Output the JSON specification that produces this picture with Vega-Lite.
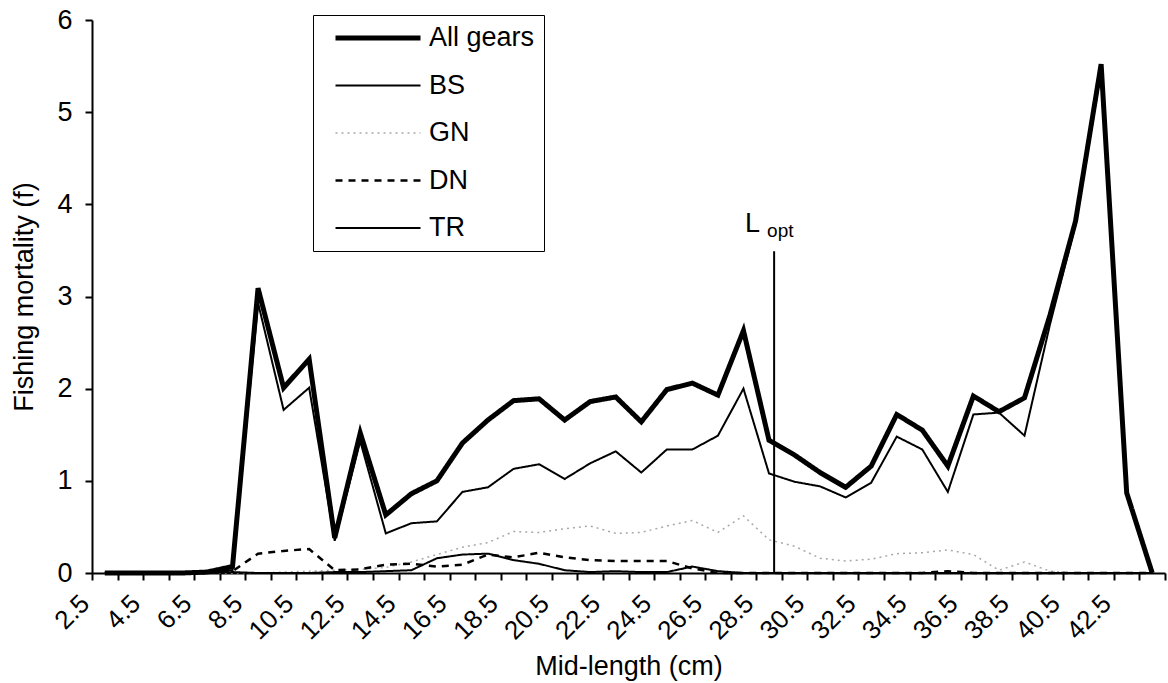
{
  "$schema": "https://vega.github.io/schema/vega-lite/v6.json",
  "autosize": "none",
  "width": 1073,
  "height": 553,
  "padding": {"left": 92, "top": 20, "right": 3, "bottom": 110},
  "background": "white",
  "config": {
    "font": "Liberation Sans",
    "view": {"stroke": null},
    "axis": {
      "grid": false,
      "domainColor": "#000",
      "domainWidth": 2,
      "tickColor": "#000",
      "tickWidth": 2,
      "tickSize": 7,
      "labelColor": "#000",
      "titleColor": "#000",
      "labelFont": "Liberation Sans",
      "titleFont": "Liberation Sans",
      "titleFontWeight": "normal",
      "labelFontSize": 26,
      "titleFontSize": 27
    },
    "legend": {
      "orient": "none",
      "legendX": 221,
      "legendY": -5,
      "labelFont": "Liberation Sans",
      "labelFontSize": 27,
      "labelColor": "#000",
      "symbolType": "stroke",
      "symbolSize": 7225,
      "strokeColor": "#000",
      "fillColor": "#fff",
      "padding": 9,
      "rowPadding": 19.5,
      "clipHeight": 28,
      "symbolOffset": 11,
      "labelOffset": 6
    }
  },
  "layer": [
    {
      "data": {
        "values": [
          {"L": 2.5, "All gears": 0, "BS": 0, "GN": 0, "DN": 0, "TR": 0},
          {"L": 3.5, "All gears": 0, "BS": 0, "GN": 0, "DN": 0, "TR": 0},
          {"L": 4.5, "All gears": 0, "BS": 0, "GN": 0, "DN": 0, "TR": 0},
          {"L": 5.5, "All gears": 0, "BS": 0, "GN": 0, "DN": 0, "TR": 0},
          {"L": 6.5, "All gears": 0.01, "BS": 0.01, "GN": 0, "DN": 0, "TR": 0},
          {"L": 7.5, "All gears": 0.07, "BS": 0.03, "GN": 0, "DN": 0.02, "TR": 0.01},
          {"L": 8.5, "All gears": 3.09, "BS": 2.93, "GN": 0, "DN": 0.21, "TR": 0},
          {"L": 9.5, "All gears": 2.01, "BS": 1.77, "GN": 0.01, "DN": 0.24, "TR": 0},
          {"L": 10.5, "All gears": 2.32, "BS": 2.01, "GN": 0.02, "DN": 0.26, "TR": 0},
          {"L": 11.5, "All gears": 0.38, "BS": 0.35, "GN": 0.03, "DN": 0.03, "TR": 0.01},
          {"L": 12.5, "All gears": 1.52, "BS": 1.43, "GN": 0.04, "DN": 0.04, "TR": 0.01},
          {"L": 13.5, "All gears": 0.63, "BS": 0.43, "GN": 0.06, "DN": 0.09, "TR": 0.02},
          {"L": 14.5, "All gears": 0.86, "BS": 0.54, "GN": 0.12, "DN": 0.1, "TR": 0.03},
          {"L": 15.5, "All gears": 1.0, "BS": 0.56, "GN": 0.2, "DN": 0.07, "TR": 0.16},
          {"L": 16.5, "All gears": 1.41, "BS": 0.88, "GN": 0.28, "DN": 0.09, "TR": 0.2},
          {"L": 17.5, "All gears": 1.66, "BS": 0.93, "GN": 0.33, "DN": 0.2, "TR": 0.21},
          {"L": 18.5, "All gears": 1.87, "BS": 1.13, "GN": 0.45, "DN": 0.17, "TR": 0.14},
          {"L": 19.5, "All gears": 1.89, "BS": 1.18, "GN": 0.44, "DN": 0.22, "TR": 0.1},
          {"L": 20.5, "All gears": 1.66, "BS": 1.02, "GN": 0.48, "DN": 0.17, "TR": 0.03},
          {"L": 21.5, "All gears": 1.86, "BS": 1.19, "GN": 0.51, "DN": 0.14, "TR": 0.01},
          {"L": 22.5, "All gears": 1.91, "BS": 1.32, "GN": 0.43, "DN": 0.13, "TR": 0.02},
          {"L": 23.5, "All gears": 1.64, "BS": 1.09, "GN": 0.44, "DN": 0.13, "TR": 0.01},
          {"L": 24.5, "All gears": 1.99, "BS": 1.34, "GN": 0.51, "DN": 0.13, "TR": 0.01},
          {"L": 25.5, "All gears": 2.06, "BS": 1.34, "GN": 0.57, "DN": 0.05, "TR": 0.07},
          {"L": 26.5, "All gears": 1.93, "BS": 1.49, "GN": 0.44, "DN": 0, "TR": 0.02},
          {"L": 27.5, "All gears": 2.63, "BS": 2.0, "GN": 0.62, "DN": 0, "TR": 0},
          {"L": 28.5, "All gears": 1.44, "BS": 1.08, "GN": 0.36, "DN": 0, "TR": 0},
          {"L": 29.5, "All gears": 1.28, "BS": 0.99, "GN": 0.29, "DN": 0, "TR": 0},
          {"L": 30.5, "All gears": 1.09, "BS": 0.94, "GN": 0.16, "DN": 0, "TR": 0},
          {"L": 31.5, "All gears": 0.93, "BS": 0.82, "GN": 0.13, "DN": 0, "TR": 0},
          {"L": 32.5, "All gears": 1.16, "BS": 0.98, "GN": 0.15, "DN": 0, "TR": 0},
          {"L": 33.5, "All gears": 1.72, "BS": 1.48, "GN": 0.21, "DN": 0, "TR": 0},
          {"L": 34.5, "All gears": 1.55, "BS": 1.34, "GN": 0.22, "DN": 0, "TR": 0},
          {"L": 35.5, "All gears": 1.16, "BS": 0.88, "GN": 0.25, "DN": 0.02, "TR": 0},
          {"L": 36.5, "All gears": 1.92, "BS": 1.72, "GN": 0.2, "DN": 0, "TR": 0},
          {"L": 37.5, "All gears": 1.75, "BS": 1.74, "GN": 0.03, "DN": 0, "TR": 0},
          {"L": 38.5, "All gears": 1.9, "BS": 1.49, "GN": 0.12, "DN": 0, "TR": 0},
          {"L": 39.5, "All gears": 2.8, "BS": 2.7, "GN": 0.02, "DN": 0, "TR": 0},
          {"L": 40.5, "All gears": 3.82, "BS": 3.78, "GN": 0, "DN": 0, "TR": 0},
          {"L": 41.5, "All gears": 5.52, "BS": 5.45, "GN": 0, "DN": 0, "TR": 0},
          {"L": 42.5, "All gears": 0.87, "BS": 0.87, "GN": 0, "DN": 0, "TR": 0},
          {"L": 43.5, "All gears": 0, "BS": 0, "GN": 0, "DN": 0, "TR": 0}
        ]
      },
      "transform": [{"fold": ["All gears", "BS", "GN", "DN", "TR"], "as": ["gear", "f"]}],
      "mark": {"type": "line", "interpolate": "linear"},
      "encoding": {
        "x": {
          "field": "L",
          "type": "quantitative",
          "title": "Mid-length (cm)",
          "scale": {"domain": [2, 44], "nice": false, "zero": false},
          "axis": {
            "values": [2, 2.5, 3, 4, 4.5, 5, 6, 6.5, 7, 8, 8.5, 9, 10, 10.5, 11, 12, 12.5, 13, 14, 14.5, 15, 16, 16.5, 17, 18, 18.5, 19, 20, 20.5, 21, 22, 22.5, 23, 24, 24.5, 25, 26, 26.5, 27, 28, 28.5, 29, 30, 30.5, 31, 32, 32.5, 33, 34, 34.5, 35, 36, 36.5, 37, 38, 38.5, 39, 40, 40.5, 41, 42, 42.5, 43, 44],
            "tickCount": 200,
            "labelExpr": "datum.value % 2 == 0.5 ? format(datum.value, '.1f') : ''",
            "tickOpacity": {"condition": {"test": "datum.value % 1 != 0", "value": 0}, "value": 1},
            "labelAngle": -45,
            "labelAlign": "right",
            "labelBaseline": "middle",
            "labelOffset": -20,
            "labelPadding": 19,
            "labelOverlap": false,
            "labelBound": false,
            "labelFlush": false,
            "titlePadding": 10
          }
        },
        "y": {
          "field": "f",
          "type": "quantitative",
          "title": "Fishing mortality (f)",
          "scale": {"domain": [0, 6], "nice": false},
          "axis": {
            "values": [0, 1, 2, 3, 4, 5, 6],
            "format": "d",
            "labelFontSize": 27,
            "labelPadding": 13,
            "titlePadding": 18
          }
        },
        "color": {
          "field": "gear",
          "type": "nominal",
          "scale": {"domain": ["All gears", "BS", "GN", "DN", "TR"], "range": ["#000000", "#000000", "#a8a8a8", "#000000", "#000000"]},
          "legend": {"title": null}
        },
        "strokeWidth": {
          "field": "gear",
          "type": "nominal",
          "scale": {"type": "ordinal", "domain": ["All gears", "BS", "GN", "DN", "TR"], "range": [5, 2, 1.5, 2.5, 2]},
          "legend": {"title": null}
        },
        "strokeDash": {
          "field": "gear",
          "type": "nominal",
          "scale": {"domain": ["All gears", "BS", "GN", "DN", "TR"], "range": [[1, 0], [1, 0], [2, 4], [7, 6], [1, 0]]},
          "legend": {"title": null}
        },
        "order": {"field": "gear"}
      }
    },
    {
      "data": {"values": [{"Lopt": 28.7, "bottom": 0, "top": 3.49}]},
      "mark": {"type": "rule", "color": "#000", "strokeWidth": 2},
      "encoding": {
        "x": {"field": "Lopt", "type": "quantitative"},
        "y": {"field": "bottom", "type": "quantitative"},
        "y2": {"field": "top"}
      }
    },
    {
      "data": {"values": [{"Lopt": 28.7, "top": 3.49, "main": "L", "sub": "opt"}]},
      "layer": [
        {
          "mark": {"type": "text", "align": "right", "baseline": "alphabetic", "dx": -14, "dy": -19, "fontSize": 27, "font": "Liberation Sans", "color": "#000"},
          "encoding": {
            "x": {"field": "Lopt", "type": "quantitative"},
            "y": {"field": "top", "type": "quantitative"},
            "text": {"field": "main"}
          }
        },
        {
          "mark": {"type": "text", "align": "left", "baseline": "alphabetic", "dx": -7, "dy": -14, "fontSize": 19, "font": "Liberation Sans", "color": "#000"},
          "encoding": {
            "x": {"field": "Lopt", "type": "quantitative"},
            "y": {"field": "top", "type": "quantitative"},
            "text": {"field": "sub"}
          }
        }
      ]
    }
  ]
}
